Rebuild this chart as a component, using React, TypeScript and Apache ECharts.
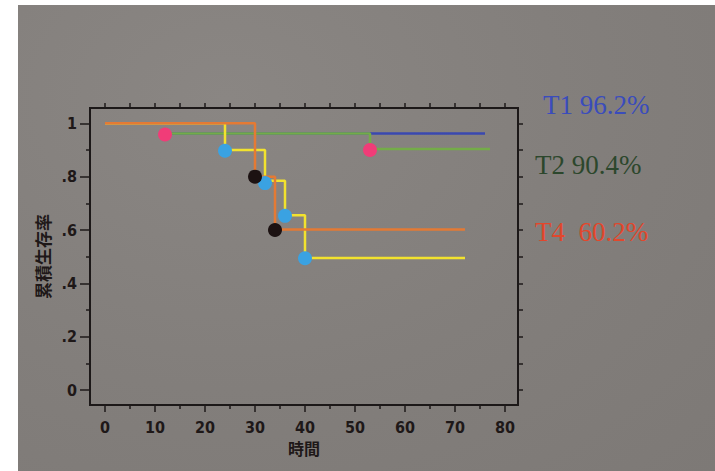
import React, { useEffect, useRef } from "react";
import * as echarts from "echarts";

// ---- axis ticks ----
const xTicks = [0, 10, 20, 30, 40, 50, 60, 70, 80];
const xMinorTicks = [5, 15, 25, 35, 45, 55, 65, 75];
const xTopTicks = [0, 5, 10, 15, 20, 25, 30, 35, 40, 45, 50, 55, 60, 65, 70, 75, 80];
const yTicks = [0, 0.2, 0.4, 0.6, 0.8, 1];
const yTickLabels = ["0", ".2", ".4", ".6", ".8", "1"];
const yMinorTicks = [0.1, 0.3, 0.5, 0.7, 0.9];
const yRightTicks = [0, 0.1, 0.2, 0.3, 0.4, 0.5, 0.6, 0.7, 0.8, 0.9, 1];

// ---- survival step curves [time, cumulative survival] ----
const t1Line = [[12, 0.962], [76, 0.962]];
const t2Line = [[12, 0.962], [53, 0.904], [77, 0.904]];
const t3Line = [[0, 1], [24, 0.9], [32, 0.785], [36, 0.655], [40, 0.495], [72, 0.495]];
const t4Line = [[0, 1], [30, 0.8], [34, 0.602], [72, 0.602]];

// ---- event markers ----
const pinkDots = [[12, 0.958], [53, 0.9]];
const blueDots = [[24, 0.897], [32, 0.776], [36, 0.653], [40, 0.494]];
const blackDots = [[30, 0.8], [34, 0.6]];

// ---- annotation texts ----
const annoTexts = ["T1 96.2%", "T2 90.4%", "T4  60.2%"];
const annoColors = ["#3a4cbc", "#2c472c", "#e2472c"];

const narrow = '"Liberation Sans Narrow", "DejaVu Sans Condensed", "Roboto Condensed", "Liberation Sans", sans-serif';
const cjk = '"Noto Sans CJK JP", "Noto Sans CJK SC", sans-serif';

export default function App() {
  const ref = useRef<HTMLDivElement>(null);
  useEffect(() => {
    if (!ref.current) return;
    const chart = echarts.init(ref.current, null, { renderer: "svg" });
    const X_MIN = -3, X_MAX = 82.6, Y_MIN = -0.0562, Y_MAX = 1.0575;
    const tickCol = "#1e1a1a";
    const mkX = (pos: string, vals: number[], len: number, label: boolean, extra: any = {}) => ({
      type: "value",
      position: pos,
      min: X_MIN,
      max: X_MAX,
      axisLine: { show: false, onZero: false },
      splitLine: { show: false },
      axisTick: { show: true, inside: false, length: len, customValues: vals, lineStyle: { color: tickCol, width: 1.5 } },
      axisLabel: label
        ? { show: true, customValues: vals, margin: 14, fontFamily: narrow, fontWeight: "bold", fontSize: 16, color: "#1e1818" }
        : { show: false },
      ...extra,
    });
    const mkY = (pos: string, vals: number[], len: number, label: boolean, extra: any = {}) => ({
      type: "value",
      position: pos,
      min: Y_MIN,
      max: Y_MAX,
      axisLine: { show: false, onZero: false },
      splitLine: { show: false },
      axisTick: { show: true, inside: false, length: len, customValues: vals, lineStyle: { color: tickCol, width: 1.5 } },
      axisLabel: label
        ? {
            show: true,
            customValues: vals,
            margin: 13,
            fontFamily: narrow,
            fontWeight: "bold",
            fontSize: 16,
            color: "#1e1818",
            formatter: (v: number) => {
              let best = 0;
              yTicks.forEach((t, i) => {
                if (Math.abs(t - v) < Math.abs(yTicks[best] - v)) best = i;
              });
              return yTickLabels[best];
            },
          }
        : { show: false },
      ...extra,
    });
    const lineSeries = (data: number[][], color: string) => ({
      type: "line",
      step: "end",
      data,
      xAxisIndex: 0,
      yAxisIndex: 0,
      symbol: "none",
      lineStyle: { color, width: 2.5 },
      silent: true,
    });
    const dotSeries = (data: number[][], color: string) => ({
      type: "scatter",
      data,
      xAxisIndex: 0,
      yAxisIndex: 0,
      symbol: "circle",
      symbolSize: 14,
      itemStyle: { color, opacity: 1 },
      z: 5,
      silent: true,
    });
    const annoY = [105, 165, 232];
    const annoX = [543, 535, 535];
    chart.setOption({
      animation: false,
      backgroundColor: "transparent",
      grid: {
        left: 90,
        right: 197,
        top: 108,
        bottom: 66,
        show: true,
        borderColor: "#1c1818",
        borderWidth: 2,
        backgroundColor: "transparent",
      },
      xAxis: [
        mkX("bottom", xTicks, 7, true, {
          name: "時間",
          nameLocation: "middle",
          nameGap: 34,
          nameTextStyle: { fontFamily: cjk, fontWeight: "bold", fontSize: 16, color: "#1e1818" },
        }),
        mkX("bottom", xMinorTicks, 4, false),
        mkX("top", xTopTicks, 5, false),
      ],
      yAxis: [
        mkY("left", yTicks, 10, true, {
          name: "累積生存率",
          nameLocation: "middle",
          nameRotate: 90,
          nameGap: 35,
          nameTextStyle: { fontFamily: cjk, fontWeight: "bold", fontSize: 17, color: "#1e1818" },
        }),
        mkY("left", yMinorTicks, 4, false),
        mkY("right", yRightTicks, 5, false),
      ],
      series: [
        lineSeries(t1Line, "#3a48b0"),
        lineSeries(t2Line, "#74ac48"),
        lineSeries(t3Line, "#f2e22e"),
        lineSeries(t4Line, "#e47a34"),
        dotSeries(pinkDots, "#f03c78"),
        dotSeries(blueDots, "#3aa2e2"),
        dotSeries(blackDots, "#1c1212"),
      ],
      graphic: annoTexts.map((t, i) => ({
        type: "text",
        x: annoX[i],
        y: annoY[i],
        style: {
          text: t,
          fill: annoColors[i],
          fontFamily: '"Liberation Serif", "DejaVu Serif", serif',
          fontSize: 27,
          verticalAlign: "middle",
        },
      })),
    });
    return () => chart.dispose();
  }, []);
  return (
    <div style={{ position: "fixed", left: 0, top: 0, width: 715, height: 471, background: "#ffffff", overflow: "hidden" }}>
      <div
        style={{
          position: "absolute",
          left: 18,
          top: 5,
          right: 0,
          bottom: 0,
          background: "radial-gradient(ellipse at 30% 20%, #8a8683 0%, #827e7b 55%, #7d7976 100%)",
        }}
      />
      <div ref={ref} style={{ position: "absolute", left: 0, top: 0, width: 715, height: 471 }} />
    </div>
  );
}
